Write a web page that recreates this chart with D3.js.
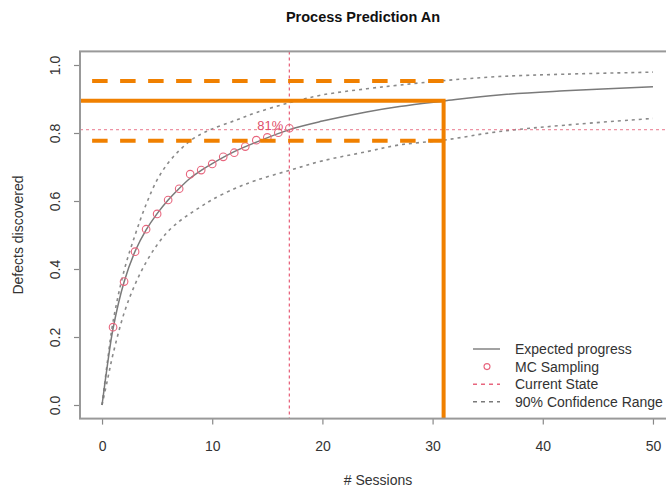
<!DOCTYPE html>
<html>
<head>
<meta charset="utf-8">
<script src="https://cdn.jsdelivr.net/npm/d3@7"></script>
<style>
  body { margin: 0; background: #fff; }
  text { font-family: "Liberation Sans", Arial, sans-serif; }
</style>
</head>
<body>
<div id="chart"></div>
<script>
// values
const curveX = [0, 0.5, 1, 2, 3, 4, 5, 6, 7, 8, 9, 10, 12, 14, 17, 20, 24, 27, 31, 36, 42, 50];
const expected = [0, 0.12, 0.225, 0.362, 0.452, 0.515, 0.563, 0.603, 0.637, 0.667, 0.69, 0.71, 0.745, 0.773, 0.81, 0.835, 0.862, 0.878, 0.894, 0.912, 0.924, 0.936];
const upperBand = [0, 0.13, 0.245, 0.395, 0.5, 0.59, 0.662, 0.712, 0.748, 0.777, 0.797, 0.812, 0.836, 0.86, 0.889, 0.912, 0.93, 0.941, 0.954, 0.966, 0.973, 0.979];
const lowerBand = [0, 0.075, 0.15, 0.27, 0.355, 0.42, 0.471, 0.511, 0.54, 0.563, 0.584, 0.604, 0.636, 0.661, 0.69, 0.718, 0.745, 0.765, 0.779, 0.804, 0.823, 0.843];

const mcSessions = [1, 2, 3, 4, 5, 6, 7, 8, 9, 10, 11, 12, 13, 14, 15, 16, 17];
const mcValues = [0.229, 0.363, 0.451, 0.517, 0.562, 0.603, 0.636, 0.679, 0.691, 0.709, 0.73, 0.742, 0.76, 0.779, 0.787, 0.801, 0.814];

const currentSession = 17;
const currentLevel = 0.81;
const currentLabel = '81%';

// orange overlay
const targetSession = 31;
const targetLevel = 0.895;
const rangeLevels = [0.953, 0.777];
const rangeStart = -0.9;

const xTicks = [0, 10, 20, 30, 40, 50];
const yTicks = [0, 0.2, 0.4, 0.6, 0.8, 1.0];
const legendLabels = ['Expected progress', 'MC Sampling', 'Current State', '90% Confidence Range'];

const width = 666;
const height = 489;
const plot = { left: 80, right: 675, top: 51.4, bottom: 418.6 };

const grayLine = '#7a7a7a';
const pink = '#e8667e';
const orange = '#f08000';

const svg = d3.select('#chart')
    .append('svg')
    .attr('width', width)
    .attr('height', height);

const x = d3.scaleLinear().domain([-2, 52]).range([plot.left, plot.right]);
const y = d3.scaleLinear().domain([-0.04, 1.04]).range([plot.bottom, plot.top]);

// axes
const xAxis = svg.append('g')
    .attr('transform', `translate(0,${plot.bottom})`)
    .call(d3.axisBottom(x).tickValues(xTicks).tickSize(6).tickPadding(16).tickFormat(d3.format('d')));
xAxis.select('.domain').remove();
xAxis.selectAll('line').attr('stroke', '#888').attr('stroke-width', 1.2);
xAxis.selectAll('text').attr('fill', '#333').style('font-size', '14px');

const yAxis = svg.append('g')
    .attr('transform', `translate(${plot.left},0)`)
    .call(d3.axisLeft(y).tickValues(yTicks).tickSize(6).tickFormat(d3.format('.1f')));
yAxis.select('.domain').remove();
yAxis.selectAll('line').attr('stroke', '#888').attr('stroke-width', 1.2);
yAxis.selectAll('text')
    .attr('fill', '#333')
    .style('font-size', '14px')
    .attr('text-anchor', 'middle')
    .attr('transform', 'rotate(-90)')
    .attr('x', 0)
    .attr('y', -20.5)
    .attr('dy', 0);

// titles
svg.append('text')
    .attr('x', 363)
    .attr('y', 22)
    .attr('text-anchor', 'middle')
    .style('font-size', '14.5px')
    .style('font-weight', 'bold')
    .attr('fill', '#111')
    .text('Process Prediction An');

svg.append('text')
    .attr('x', 378)
    .attr('y', 485)
    .attr('text-anchor', 'middle')
    .style('font-size', '14px')
    .attr('fill', '#333')
    .text('# Sessions');

svg.append('text')
    .attr('transform', `translate(23,${(plot.top + plot.bottom) / 2}) rotate(-90)`)
    .attr('text-anchor', 'middle')
    .style('font-size', '14px')
    .attr('fill', '#333')
    .text('Defects discovered');

// curves
const line = d3.line()
    .x((d) => x(d[0]))
    .y((d) => y(d[1]))
    .curve(d3.curveCatmullRom.alpha(0.5));

[upperBand, lowerBand].forEach((band) => {
    svg.append('path')
        .attr('d', line(curveX.map((v, i) => [v, band[i]])))
        .attr('fill', 'none')
        .attr('stroke', '#8a8a8a')
        .attr('stroke-width', 1.6)
        .attr('stroke-dasharray', '3,4');
});

svg.append('path')
    .attr('d', line(curveX.map((v, i) => [v, expected[i]])))
    .attr('fill', 'none')
    .attr('stroke', grayLine)
    .attr('stroke-width', 1.5);

// current state
svg.append('line')
    .attr('x1', x(currentSession)).attr('x2', x(currentSession))
    .attr('y1', plot.top).attr('y2', plot.bottom)
    .attr('stroke', pink).attr('stroke-width', 1.3).attr('stroke-dasharray', '3,3');
svg.append('line')
    .attr('x1', plot.left).attr('x2', plot.right)
    .attr('y1', y(currentLevel)).attr('y2', y(currentLevel))
    .attr('stroke', pink).attr('stroke-width', 1.3).attr('stroke-dasharray', '3,3')
    .attr('opacity', 0.7);

svg.selectAll('.mc')
    .data(mcSessions)
    .enter()
    .append('circle')
    .attr('class', 'mc')
    .attr('cx', (d) => x(d))
    .attr('cy', (d, i) => y(mcValues[i]))
    .attr('r', 3.8)
    .attr('fill', 'none')
    .attr('stroke', pink)
    .attr('stroke-width', 1.1);

svg.append('text')
    .attr('x', x(currentSession) - 6)
    .attr('y', y(currentLevel))
    .attr('text-anchor', 'end')
    .style('font-size', '13px')
    .attr('fill', '#e0506a')
    .text(currentLabel);

// orange overlay
svg.append('path')
    .attr('d', d3.line()([
        [plot.left, y(targetLevel)],
        [x(targetSession), y(targetLevel)],
        [x(targetSession), plot.bottom]
    ]))
    .attr('fill', 'none')
    .attr('stroke', orange)
    .attr('stroke-width', 4);

svg.selectAll('.range')
    .data(rangeLevels)
    .enter()
    .append('line')
    .attr('class', 'range')
    .attr('x1', x(rangeStart))
    .attr('x2', x(targetSession))
    .attr('y1', (d) => y(d))
    .attr('y2', (d) => y(d))
    .attr('stroke', orange)
    .attr('stroke-width', 4)
    .attr('stroke-dasharray', '15.5,12.5');

// legend
const legend = svg.append('g').attr('transform', 'translate(473,349)');
const rows = legend.selectAll('g')
    .data(legendLabels)
    .enter()
    .append('g')
    .attr('transform', (d, i) => `translate(0,${i * 17.6})`);

rows.append('text')
    .attr('x', 42)
    .attr('dy', '0.35em')
    .style('font-size', '14px')
    .attr('fill', '#333')
    .text((d) => d);

rows.filter((d, i) => i !== 1)
    .append('line')
    .attr('x1', 0).attr('x2', 27)
    .attr('stroke', (d) => (d === 'Current State' ? pink : grayLine))
    .attr('stroke-width', 1.4)
    .attr('stroke-dasharray', (d, i) => (i === 0 ? null : '4,4'));

rows.filter((d, i) => i === 1)
    .append('circle')
    .attr('cx', 14)
    .attr('r', 3)
    .attr('fill', 'none')
    .attr('stroke', pink)
    .attr('stroke-width', 1.1);

// box
svg.append('rect')
    .attr('x', plot.left)
    .attr('y', plot.top)
    .attr('width', plot.right - plot.left)
    .attr('height', plot.bottom - plot.top)
    .attr('fill', 'none')
    .attr('stroke', '#999')
    .attr('stroke-width', 2);
</script>
</body>
</html>
